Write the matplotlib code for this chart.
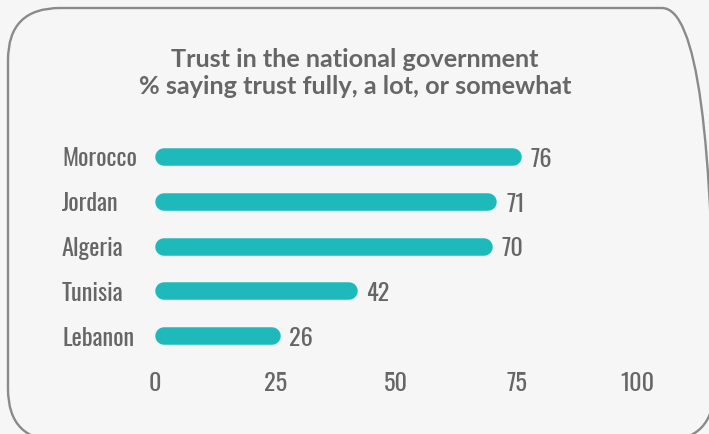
import matplotlib
matplotlib.use("Agg")
import matplotlib.pyplot as plt
from matplotlib import font_manager as fm
from matplotlib.patches import FancyBboxPatch
from matplotlib.transforms import IdentityTransform

# Trust in national government, % saying fully / a lot / somewhat
countries = ["Morocco", "Jordan", "Algeria", "Tunisia", "Lebanon"]
trust = [76, 71, 70, 42, 26]
xticks = [0, 25, 50, 75, 100]
title_lines = ["Trust in the national government",
               "% saying trust fully, a lot, or somewhat"]

BG = "#f6f6f6"
BAR = "#1db9bb"
TXT = "#666666"
FRAME = "#8a8a8a"


def _weight(w):
    return w if isinstance(w, int) else fm.weight_dict.get(w, 400)


def pick_family(cands, min_weight=0, static_only=False):
    """first installed family in cands with a face of at least min_weight"""
    faces = {}
    for f in fm.fontManager.ttflist:
        if static_only and "[" in f.fname:  # variable fonts: default instance only
            continue
        faces.setdefault(f.name, []).append(_weight(f.weight))
    for c in cands:
        if any(w >= min_weight for w in faces.get(c, [])):
            return c
    return "DejaVu Sans"


LABEL_FONT = pick_family(["Oswald", "Roboto Condensed", "Barlow Condensed"])
TITLE_FONT = pick_family(["Libre Franklin", "Public Sans", "Lato", "Roboto",
                          "Liberation Sans"], min_weight=600, static_only=True)

W, H = 709, 434
fig = plt.figure(figsize=(W / 100, H / 100), dpi=100)
fig.patch.set_facecolor(BG)

# rounded frame in display pixels; it runs past the right and bottom edges
frame = FancyBboxPatch((8, H - 441), 706, 433,
                       boxstyle="round,pad=0,rounding_size=52",
                       transform=IdentityTransform(), facecolor="none",
                       edgecolor=FRAME, linewidth=1.7, clip_on=False)
fig.add_artist(frame)

# title, scaled so the first line is about 371px wide
renderer = fig.canvas.get_renderer()
probe = fig.text(0, 0, title_lines[0], fontsize=15, fontweight="bold",
                 family=TITLE_FONT)
tw = probe.get_window_extent(renderer).width
probe.remove()
title_size = 15 * 371 / tw
for line, base in zip(title_lines, [67, 94]):
    fig.text(355 / W, 1 - base / H, line, ha="center", va="baseline",
             fontsize=title_size, fontweight="bold", color=TXT,
             family=TITLE_FONT)

# chart axes: x 0 -> 155px, 100 -> 637px ; rows 44.75px apart from 157px
ax_left, ax_w = 155, 482
row_gap = 44.75
ax_top = 157 - row_gap / 2
ax_h = row_gap * len(countries)
ax = fig.add_axes([ax_left / W, 1 - (ax_top + ax_h) / H, ax_w / W, ax_h / H])
ax.set_facecolor("none")
ax.set_xlim(0, 100)
ax.set_ylim(len(countries) - 0.5, -0.5)

LSIZE = 17.5
bar_px = 17.5
r = bar_px / 2 / (ax_w / 100)
for i, v in enumerate(trust):
    ax.plot([r, v - r], [i, i], color=BAR, linewidth=bar_px * 0.72,
            solid_capstyle="round")
    ax.annotate(str(v), (v, i), xytext=(9 / 1.39, -7.2),
                textcoords="offset points", ha="left", va="baseline",
                fontsize=LSIZE, color=TXT, family=LABEL_FONT, weight="light")

ax.set_yticks(range(len(countries)))
ax.set_yticklabels(countries, family=LABEL_FONT, fontsize=LSIZE, color=TXT,
                   ha="left", weight="light")
ax.tick_params(axis="y", length=0, pad=(155 - 62) * 0.72)
ax.set_xticks(xticks)
ax.set_xticklabels([str(t) for t in xticks], family=LABEL_FONT,
                   fontsize=LSIZE, color=TXT, weight="light")
ax.tick_params(axis="x", length=0, pad=10)
for s in ax.spines.values():
    s.set_visible(False)

fig.savefig("out.png", dpi=100, facecolor=BG)
